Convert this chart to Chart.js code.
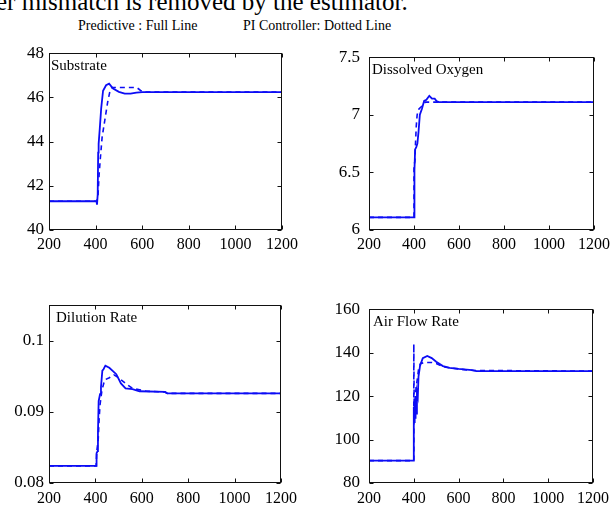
<!DOCTYPE html>
<html>
<head>
<meta charset="utf-8">
<script src="https://cdn.jsdelivr.net/npm/chart.js@4.4.0/dist/chart.umd.min.js"></script>
<style>
    body { margin: 0; background: #fff; width: 615px; height: 506px; overflow: hidden; position: relative;
           font-family: "Liberation Serif", "Times New Roman", serif; }
    canvas { position: absolute; }
    .txt { position: absolute; white-space: nowrap; color: #000; }
</style>
</head>
<body>
<div class="txt" style="left:-4px; top:-11px; font-size:25px; line-height:25px">er mismatch is removed by the estimator.</div>
<div class="txt" style="left:78px; top:18px; font-size:14px; line-height:16px">Predictive : Full Line</div>
<div class="txt" style="left:243px; top:18px; font-size:14px; line-height:16px">PI Controller: Dotted Line</div>

<canvas id="subChart" width="303" height="222" style="left:0; top:38px"></canvas>
<canvas id="doChart" width="310" height="222" style="left:305px; top:38px"></canvas>
<canvas id="dilChart" width="303" height="216" style="left:0; top:290px"></canvas>
<canvas id="airChart" width="310" height="216" style="left:305px; top:290px"></canvas>

<script>
// time axis ticks shared by all four panels
const xTicks = [200, 400, 600, 800, 1000, 1200];

// Substrate
const subTicks = [40, 42, 44, 46, 48];
const subPredX = [200, 404, 406, 409, 411, 413, 418, 424, 432, 445, 458, 475, 500, 525, 550, 575, 600, 1200];
const subPredY = [41.3, 41.3, 41.15, 41.6, 43.5, 43.9, 44.6, 45.5, 46.3, 46.55, 46.62, 46.4, 46.25, 46.17, 46.17, 46.22, 46.24, 46.24];
const subPIX = [200, 405, 410, 415, 420, 428, 440, 452, 462, 470, 520, 575, 585, 595, 605, 1200];
const subPIY = [41.3, 41.3, 41.5, 42.5, 43.2, 44.2, 45.0, 45.8, 46.3, 46.45, 46.45, 46.45, 46.38, 46.3, 46.24, 46.24];

// Dissolved oxygen
const doTicks = [6, 6.5, 7, 7.5];
const doPredX = [200, 400, 400, 404, 405, 410, 415, 420, 426, 435, 445, 455, 468, 480, 492, 500, 510, 1200];
const doPredY = [6.11, 6.11, 6.52, 6.52, 6.70, 6.72, 6.75, 6.85, 7.0, 7.05, 7.12, 7.13, 7.165, 7.14, 7.14, 7.12, 7.11, 7.11];
const doPIX = [200, 400, 400, 404, 406, 410, 414, 422, 432, 440, 450, 1200];
const doPIY = [6.11, 6.11, 6.55, 6.6, 6.72, 6.9, 7.0, 7.05, 7.07, 7.09, 7.11, 7.11];

// Dilution rate
const dilTicks = [0.08, 0.09, 0.1];
const dilPredX = [200, 403, 405, 410, 411, 414, 420, 424, 430, 435, 443, 460, 490, 510, 530, 560, 590, 700, 710, 1200];
const dilPredY = [0.0824, 0.0824, 0.0842, 0.0845, 0.087, 0.0915, 0.0925, 0.0935, 0.0958, 0.096, 0.0965, 0.0962, 0.0953, 0.094, 0.0933, 0.0932, 0.0929, 0.0928, 0.0926, 0.0926];
const dilPIX = [200, 403, 406, 412, 416, 420, 428, 440, 460, 480, 500, 530, 560, 590, 620, 700, 710, 1200];
const dilPIY = [0.0824, 0.0824, 0.0845, 0.086, 0.089, 0.091, 0.093, 0.0945, 0.0948, 0.0952, 0.0948, 0.094, 0.0933, 0.0931, 0.0929, 0.0928, 0.0926, 0.0926];

// Air flow rate
const airTicks = [80, 100, 120, 140, 160];
const airPredX = [200, 400, 400, 402, 404, 406, 408, 410, 414, 418, 421, 428, 440, 460, 480, 500, 530, 560, 600, 660, 680, 1200];
const airPredY = [90.3, 90.3, 115, 108, 118, 110, 120, 112, 122, 120, 129, 134, 137.5, 138.5, 137.5, 135.8, 133.8, 133, 132.5, 132, 131.5, 131.5];
const airPIX = [200, 400, 400, 402, 405, 410, 416, 422, 430, 450, 480, 500, 530, 560, 600, 640, 670, 1200];
const airPIY = [90.3, 90.3, 144, 110, 115, 124, 128, 133, 135, 135.5, 135.5, 135, 133.5, 133, 132.5, 132, 131.8, 131.5];

const BLUE = '#0c0cf5';
const FAMILY = '"Liberation Serif", "Times New Roman", serif';
const XFONT = { family: FAMILY, size: 16 };
const YFONT = { family: FAMILY, size: 17 };

function points(xs, ys) {
    return xs.map((x, i) => ({ x: x, y: ys[i] }));
}

// matlab style box with inward ticks on all four sides + label in the corner
const boxPlugin = {
    id: 'matlabBox',
    afterDraw(chart, args, opts) {
        const ctx = chart.ctx;
        const a = chart.chartArea;
        const xs = chart.scales.x, ys = chart.scales.y;
        const l = Math.round(a.left) + 0.5, r = Math.round(a.right) - 0.5;
        const t = Math.round(a.top) + 0.5, b = Math.round(a.bottom) - 0.5;
        ctx.save();
        ctx.strokeStyle = '#111';
        ctx.lineWidth = 1;
        ctx.strokeRect(l, t, r - l, b - t);
        ctx.beginPath();
        xs.ticks.forEach(tk => {
            const px = Math.round(xs.getPixelForValue(tk.value)) + 0.5;
            ctx.moveTo(px, b); ctx.lineTo(px, b - 4);
            ctx.moveTo(px, t); ctx.lineTo(px, t + 4);
        });
        ys.ticks.forEach(tk => {
            const py = Math.round(ys.getPixelForValue(tk.value)) + 0.5;
            ctx.moveTo(l, py); ctx.lineTo(l + 4, py);
            ctx.moveTo(r, py); ctx.lineTo(r - 4, py);
        });
        ctx.stroke();
        ctx.fillStyle = '#000';
        ctx.font = '15px ' + FAMILY;
        ctx.textBaseline = 'alphabetic';
        ctx.fillText(opts.title, a.left + opts.dx, a.top + 17);
        ctx.restore();
    }
};

function makePanel(id, cfg) {
    const ctx = document.getElementById(id).getContext('2d');
    new Chart(ctx, {
        type: 'line',
        data: {
            datasets: [{
                label: 'PI Controller',
                data: points(cfg.piX, cfg.piY),
                borderColor: BLUE,
                borderWidth: 1.6,
                borderDash: [5, 4],
                pointRadius: 0,
                tension: 0
            }, {
                label: 'Predictive',
                data: points(cfg.predX, cfg.predY),
                borderColor: BLUE,
                borderWidth: 1.8,
                pointRadius: 0,
                tension: 0
            }]
        },
        options: {
            responsive: false,
            animation: false,
            layout: { padding: { top: cfg.padTop, right: cfg.padRight, left: 0, bottom: 0 } },
            plugins: {
                legend: { display: false },
                tooltip: { enabled: false },
                matlabBox: { title: cfg.title, dx: cfg.dx }
            },
            scales: {
                x: {
                    type: 'linear',
                    min: 200,
                    max: 1200,
                    grid: { display: false, drawTicks: false },
                    border: { display: false },
                    afterBuildTicks: s => { s.ticks = xTicks.map(v => ({ value: v })); },
                    afterFit: s => { s.height = cfg.xh; },
                    ticks: {
                        font: XFONT, color: '#000', padding: cfg.xPad,
                        maxRotation: 0, autoSkip: false,
                        callback: v => String(v)
                    }
                },
                y: {
                    min: cfg.yTicks[0],
                    max: cfg.yMax,
                    grid: { display: false, drawTicks: false },
                    border: { display: false },
                    afterBuildTicks: s => { s.ticks = cfg.yTicks.map(v => ({ value: v })); },
                    afterFit: s => { s.width = cfg.yw; },
                    ticks: {
                        font: YFONT, color: '#000', padding: cfg.yPad,
                        autoSkip: false,
                        callback: v => String(v)
                    }
                }
            }
        },
        plugins: [boxPlugin]
    });
}

document.addEventListener('DOMContentLoaded', function() {
    makePanel('subChart', {
        title: 'Substrate', dx: 2,
        predX: subPredX, predY: subPredY, piX: subPIX, piY: subPIY,
        yTicks: subTicks, yMax: 48,
        padTop: 10, padRight: 20, xh: 30, yw: 49, xPad: 5, yPad: 5
    });
    makePanel('doChart', {
        title: 'Dissolved Oxygen', dx: 3,
        predX: doPredX, predY: doPredY, piX: doPIX, piY: doPIY,
        yTicks: doTicks, yMax: 7.5,
        padTop: 10, padRight: 15, xh: 30, yw: 64, xPad: 5, yPad: 9
    });
    makePanel('dilChart', {
        title: 'Dilution Rate', dx: 7,
        predX: dilPredX, predY: dilPredY, piX: dilPIX, piY: dilPIY,
        yTicks: dilTicks, yMax: 0.105,
        padTop: 11, padRight: 20, xh: 23, yw: 49, xPad: 6, yPad: 5
    });
    makePanel('airChart', {
        title: 'Air Flow Rate', dx: 4,
        predX: airPredX, predY: airPredY, piX: airPIX, piY: airPIY,
        yTicks: airTicks, yMax: 160,
        padTop: 11, padRight: 15, xh: 23, yw: 64, xPad: 6, yPad: 9
    });
});
</script>
</body>
</html>
